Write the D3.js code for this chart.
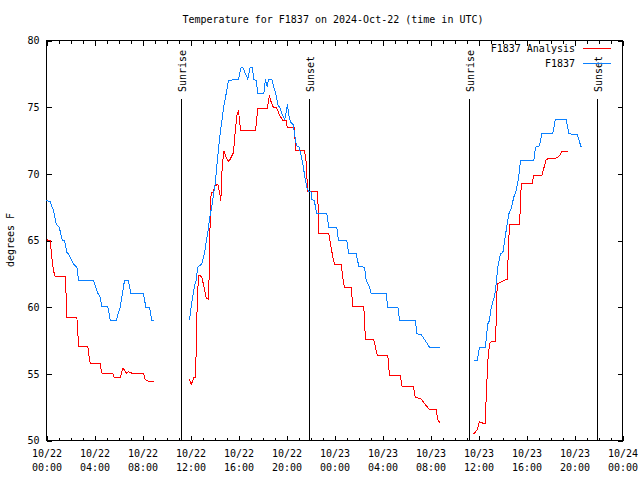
<!DOCTYPE html>
<html><head><meta charset="utf-8">
<script src="https://cdn.jsdelivr.net/npm/d3@7"></script>
<style>
html,body{margin:0;padding:0;background:#fff;}
svg{display:block;}
text{font-family:"DejaVu Sans Mono","Liberation Mono",monospace;font-size:10px;fill:#000;}
</style></head>
<body>
<script>
// hours since 2024-10-22 00:00 UTC; null = gap
const analysisHours = [0,0.31,0.44,0.58,0.72,1.56,1.61,1.69,2.53,2.58,2.67,3.44,3.56,3.64,4.47,4.56,4.64,5.53,5.64,6.14,6.36,6.47,6.64,6.83,7.03,7.19,7.94,8.08,8.22,8.36,8.64,8.97,
  null,
  11.92,12.06,12.28,12.42,12.47,12.56,12.67,12.94,13.1,13.31,13.5,13.56,13.64,13.72,13.92,14.0,14.28,14.44,14.53,14.56,14.64,14.78,14.97,15.19,15.39,15.58,15.72,15.86,16.0,16.17,17.42,17.56,17.61,18.39,18.5,18.58,18.64,18.72,18.9,19.14,19.28,19.42,19.69,19.97,20.06,20.67,20.75,21.5,21.64,21.72,21.78,22.56,22.67,22.7,23.53,23.64,23.86,24.0,24.56,24.69,24.83,25.39,25.53,26.44,26.58,27.28,27.53,27.61,28.44,28.58,29.47,29.64,30.58,30.72,31.22,31.92,32.47,32.61,32.8,
  null,
  35.61,35.89,36.08,36.36,36.56,36.64,36.78,36.92,37.06,37.39,37.47,37.56,38.39,38.44,38.58,39.42,39.5,39.56,40.47,40.61,41.28,41.5,41.64,42.58,42.78,42.97,43.42];
const analysisTemps = [65.05,65.0,63.75,62.75,62.3,62.3,61.5,59.25,59.25,58.6,57.05,57.05,56.25,55.8,55.8,55.25,55.0,55.0,54.75,54.7,55.4,55.3,55.05,55.15,55.1,55.0,55.0,55.05,54.6,54.5,54.4,54.4,
  null,
  54.6,54.2,54.7,54.7,56.6,60.4,62.4,62.3,61.6,60.7,60.6,62.6,66.6,68.6,68.6,69.1,69.2,68.5,68.0,68.9,70.5,71.7,71.25,70.9,71.25,71.6,73.1,74.4,74.75,73.25,73.25,74.5,74.9,74.9,75.4,75.9,75.6,75.4,75.0,75.0,74.75,74.4,74.0,74.0,73.5,73.5,71.75,71.75,70.9,69.4,68.7,68.7,67.1,65.5,65.5,64.9,63.75,63.2,63.2,62.25,61.5,61.45,60.05,60.05,57.55,57.55,56.5,56.4,56.4,54.9,54.9,54.05,54.05,53.25,53.1,52.3,52.3,51.55,51.3,
  null,
  50.5,50.8,51.4,51.3,51.25,53.25,56.0,57.25,57.4,57.4,58.75,61.75,62.1,63.1,66.2,66.2,67.75,69.25,69.3,69.9,69.9,70.6,71.1,71.2,71.4,71.7,71.7];

const obsHours = [0,0.31,0.58,0.81,1.06,1.33,1.5,1.69,1.83,2.25,2.53,2.67,3.92,4.25,4.47,4.61,5.11,5.31,5.81,6.14,6.5,6.83,7.03,8.08,8.28,8.58,8.78,8.97,
  null,
  11.92,12.06,12.33,12.47,12.6,12.94,13.17,13.44,13.58,13.78,13.94,14.06,14.28,14.42,14.56,14.78,14.97,15.17,16.0,16.22,16.36,16.58,16.78,16.97,17.14,17.28,17.47,17.61,18.11,18.25,18.39,18.5,18.78,18.94,19.11,19.17,19.31,19.44,19.67,19.86,20.0,20.08,20.19,20.33,20.56,20.69,20.83,21.06,21.33,21.42,21.56,21.69,21.83,22.03,22.11,22.31,22.44,22.53,23.36,23.53,24.19,24.33,25.03,25.19,25.81,26.03,26.5,26.64,26.92,27.06,28.31,28.44,29.28,29.42,30.75,30.86,31.22,31.92,32.8,
  null,
  35.61,35.89,36.08,36.56,36.78,36.92,37.0,37.19,37.33,37.47,37.61,37.83,38.03,38.22,38.39,38.53,38.72,38.94,39.14,39.33,39.5,40.61,40.75,41.08,41.28,42.19,42.39,43.31,43.53,44.22,44.56];
const obsTemps = [68.0,67.9,67.25,66.25,66.0,65.0,65.0,64.1,64.0,63.25,63.0,62.0,62.0,61.1,60.75,60.05,60.05,59.0,59.0,60.0,62.0,62.0,61.0,61.0,60.0,60.0,59.0,59.0,
  null,
  59.0,60.1,61.6,62.0,63.0,63.25,64.1,65.6,66.6,67.6,68.6,69.25,71.4,72.6,73.6,75.1,76.0,77.0,77.1,78.0,78.0,77.5,77.1,78.0,78.0,77.1,77.0,76.0,76.0,77.1,76.5,77.1,77.1,76.5,76.0,75.75,75.1,75.0,74.4,74.1,74.75,75.25,74.4,73.9,73.7,72.9,72.1,72.0,70.9,70.4,69.6,69.0,68.7,68.7,68.1,68.0,67.4,67.0,67.0,66.0,66.0,65.0,65.0,64.0,64.0,63.05,63.0,62.0,61.5,61.0,61.0,60.0,60.0,59.0,59.0,58.0,57.95,57.0,57.0,
  null,
  56.0,56.0,56.95,56.95,58.75,59.0,59.75,60.4,60.75,61.75,63.0,64.0,64.1,65.25,66.25,67.0,67.4,68.25,68.75,69.6,71.0,71.0,72.0,72.1,73.0,73.0,74.05,74.05,73.0,72.95,72.0];

const sunLabels = ["Sunrise","Sunset","Sunrise","Sunset"];
const sunHours = [11.22,21.9,35.22,45.9];
const yTicks = [50,55,60,65,70,75,80];
const seriesNames = ["F1837 Analysis","F1837"];
const seriesColors = ["#ff0000","#0a80ff"];
const titleText = "Temperature for F1837 on 2024-Oct-22 (time in UTC)";
const yLabel = "degrees F";

const W = 640, H = 480;
const t0 = Date.UTC(2024,9,22);
const toDate = h => new Date(t0 + h*3600e3);

const svg = d3.select("body").append("svg").attr("width",W).attr("height",H);
svg.append("rect").attr("width",W).attr("height",H).attr("fill","#fff");

const x = d3.scaleUtc().domain([toDate(0), toDate(48)]).range([46.5, 622.5]);
const y = d3.scaleLinear().domain([50,80]).range([440.5, 40.5]);

// title
svg.append("text").attr("x",333).attr("y",23).attr("text-anchor","middle").text(titleText);
// y label
svg.append("text").attr("transform","translate(14,240) rotate(-90)").attr("text-anchor","middle").text(yLabel);

const crisp = s => s.attr("shape-rendering","crispEdges");

// minor x ticks (hourly)
const hourTicks = d3.utcHour.every(1).range(toDate(0), toDate(48.01));
svg.append("g").attr("transform","translate(0,440.5)").call(d3.axisBottom(x).tickValues(hourTicks).tickSize(-3).tickSizeOuter(0).tickFormat(""))
  .call(g=>g.select(".domain").remove()).call(crisp);
svg.append("g").attr("transform","translate(0,40.5)").call(d3.axisTop(x).tickValues(hourTicks).tickSize(-3).tickSizeOuter(0).tickFormat(""))
  .call(g=>g.select(".domain").remove()).call(crisp);

// major x ticks (4-hourly) with two-line labels
const majorTicks = d3.utcHour.every(4).range(toDate(0), toDate(48.01));
const fmtD = d3.utcFormat("%m/%d"), fmtT = d3.utcFormat("%H:%M");
const xb = svg.append("g").attr("transform","translate(0,440.5)")
  .call(d3.axisBottom(x).tickValues(majorTicks).tickSize(-5).tickSizeOuter(0).tickPadding(12).tickFormat(d=>fmtD(d)))
  .call(g=>g.select(".domain").remove()).call(crisp);
xb.selectAll(".tick text").each(function(d){
  const t = d3.select(this);
  t.text(null).attr("y",null).attr("dy",null);
  t.append("tspan").attr("x",0).attr("y",16).text(fmtD(d));
  t.append("tspan").attr("x",0).attr("y",30).text(fmtT(d));
});
svg.append("g").attr("transform","translate(0,40.5)")
  .call(d3.axisTop(x).tickValues(majorTicks).tickSize(-5).tickSizeOuter(0).tickFormat(""))
  .call(g=>g.select(".domain").remove()).call(crisp);

// y axes
svg.append("g").attr("transform","translate(46.5,0)")
  .call(d3.axisLeft(y).tickValues(yTicks).tickSize(-5).tickSizeOuter(0).tickPadding(7))
  .call(g=>g.select(".domain").remove()).call(crisp);
svg.append("g").attr("transform","translate(622.5,0)")
  .call(d3.axisRight(y).tickValues(yTicks).tickSize(-5).tickSizeOuter(0).tickFormat(""))
  .call(g=>g.select(".domain").remove()).call(crisp);
svg.selectAll(".tick text").style("font-family",'"DejaVu Sans Mono","Liberation Mono",monospace').style("font-size","10px").attr("fill","#000");
svg.selectAll(".tick line").attr("stroke","#000");

// border
svg.append("rect").attr("x",46.5).attr("y",40.5).attr("width",576).attr("height",400)
  .attr("fill","none").attr("stroke","#000").attr("stroke-width",1).call(crisp);

// sun lines
sunHours.forEach((h,i)=>{
  const xx = Math.round(x(toDate(h))-0.5)+0.5;
  svg.append("line").attr("x1",xx).attr("x2",xx).attr("y1",99).attr("y2",440.5)
    .attr("stroke","#000").attr("stroke-width",1).call(crisp);
  svg.append("text").attr("transform",`translate(${xx+4.5},92) rotate(-90)`).attr("text-anchor","start").text(sunLabels[i]);
});

// data lines
function pts(hs, vs){ return hs.map((h,i)=>({h, v: vs[i]})); }
const line = d3.line().defined(d=>d.h!=null && d.v!=null).x(d=>x(toDate(d.h))).y(d=>y(d.v));
svg.append("path").datum(pts(analysisHours, analysisTemps)).attr("d",line)
  .attr("fill","none").attr("stroke",seriesColors[0]).attr("stroke-width",1).call(crisp);
svg.append("path").datum(pts(obsHours, obsTemps)).attr("d",line)
  .attr("fill","none").attr("stroke",seriesColors[1]).attr("stroke-width",1).call(crisp);

// legend
seriesNames.forEach((n,i)=>{
  const yy = 48.5 + i*15;
  svg.append("text").attr("x",575).attr("y",yy+3.5).attr("text-anchor","end").text(n);
  svg.append("line").attr("x1",583).attr("x2",611).attr("y1",yy).attr("y2",yy)
    .attr("stroke",seriesColors[i]).attr("stroke-width",1).call(crisp);
});
</script>
</body></html>
